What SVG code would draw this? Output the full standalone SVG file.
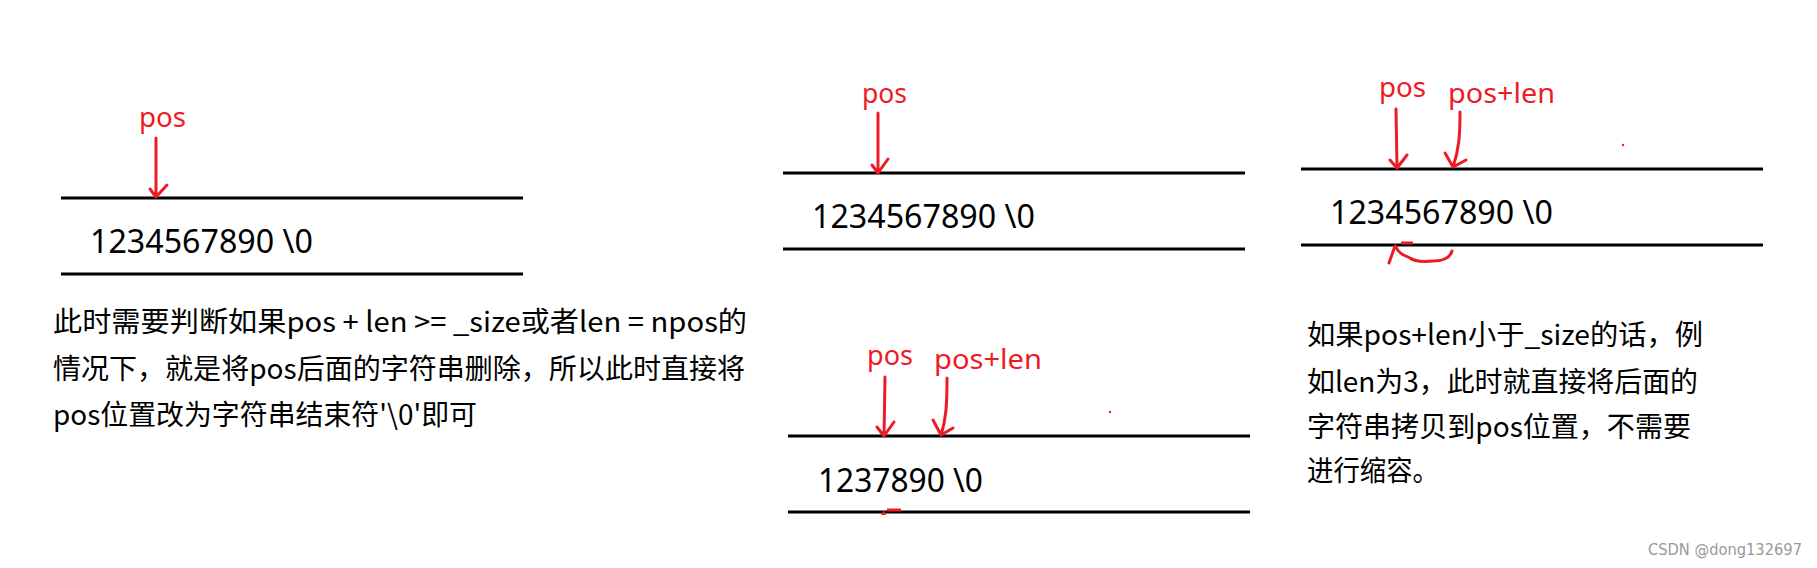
<svg xmlns="http://www.w3.org/2000/svg" width="1817" height="568" viewBox="0 0 1817 568">
<style>
.bar{stroke:#000;stroke-width:3;fill:none}
.red{stroke:#ed1c24;stroke-width:3;fill:none;stroke-linecap:round;stroke-linejoin:round}
.lbl{fill:#ed1c24;font-family:"Noto Sans","Open Sans",sans-serif;font-size:28px}
.num{fill:#000;font-family:"Noto Sans","Open Sans",sans-serif;font-size:33px}
.cn{fill:#000;font-family:"Noto Sans CJK SC",sans-serif;font-size:28px}
.wm{fill:#9a9a9a;font-family:"DejaVu Sans","Liberation Sans",sans-serif;font-size:15px}
</style>
<rect width="1817" height="568" fill="#fff"/>

<g id="panel-left">
  <line class="bar" x1="61" y1="198" x2="523" y2="198"/>
  <line class="bar" x1="61" y1="274" x2="523" y2="274"/>
  <text class="num" x="90" y="253" textLength="223" lengthAdjust="spacingAndGlyphs">1234567890 \0</text>
  <text class="lbl" x="139" y="127" textLength="47" lengthAdjust="spacingAndGlyphs">pos</text>
</g>

<g id="note-left">
  <text class="cn" x="53" y="332" textLength="694" lengthAdjust="spacingAndGlyphs">此时需要判断如果pos + len &gt;= _size或者len = npos的</text>
  <text class="cn" x="53" y="379" textLength="692" lengthAdjust="spacingAndGlyphs">情况下，就是将pos后面的字符串删除，所以此时直接将</text>
  <text class="cn" x="53" y="425" textLength="424" lengthAdjust="spacingAndGlyphs">pos位置改为字符串结束符'\0'即可</text>
</g>

<g id="panel-mid-top">
  <line class="bar" x1="783" y1="173" x2="1245" y2="173"/>
  <line class="bar" x1="783" y1="249" x2="1245" y2="249"/>
  <text class="num" x="812" y="228" textLength="223" lengthAdjust="spacingAndGlyphs">1234567890 \0</text>
  <text class="lbl" x="862" y="103" textLength="45" lengthAdjust="spacingAndGlyphs">pos</text>
</g>

<g id="panel-mid-bottom">
  <line class="bar" x1="788" y1="436" x2="1250" y2="436"/>
  <line class="bar" x1="788" y1="512" x2="1250" y2="512"/>
  <text class="num" x="818" y="492" textLength="165" lengthAdjust="spacingAndGlyphs">1237890 \0</text>
  <text class="lbl" x="867" y="365" textLength="46" lengthAdjust="spacingAndGlyphs">pos</text>
  <text class="lbl" x="934" y="369" textLength="108" lengthAdjust="spacingAndGlyphs">pos+len</text>
  <circle cx="1110" cy="412" r="1.2" fill="#ed1c24"/>
  <path d="M881,515 L884,510 L886,515 Z" fill="#ed1c24"/>
  <line x1="887" y1="510" x2="901" y2="510" stroke="#ed1c24" stroke-width="3"/>
</g>

<g id="panel-right">
  <line class="bar" x1="1301" y1="169" x2="1763" y2="169"/>
  <line class="bar" x1="1301" y1="245" x2="1763" y2="245"/>
  <text class="num" x="1330" y="224" textLength="223" lengthAdjust="spacingAndGlyphs">1234567890 \0</text>
  <text class="lbl" x="1379" y="97" textLength="47" lengthAdjust="spacingAndGlyphs">pos</text>
  <text class="lbl" x="1448" y="103" textLength="107" lengthAdjust="spacingAndGlyphs">pos+len</text>
  <circle cx="1623" cy="145" r="1.2" fill="#ed1c24"/>
</g>

<g id="note-right">
  <text class="cn" x="1307" y="345" textLength="396" lengthAdjust="spacingAndGlyphs">如果pos+len小于_size的话，例</text>
  <text class="cn" x="1307" y="392" textLength="391" lengthAdjust="spacingAndGlyphs">如len为3，此时就直接将后面的</text>
  <text class="cn" x="1307" y="437" textLength="384" lengthAdjust="spacingAndGlyphs">字符串拷贝到pos位置，不需要</text>
  <text class="cn" x="1307" y="481" textLength="132" lengthAdjust="spacingAndGlyphs">进行缩容。</text>
</g>

<g id="connectors">
  <path class="red" d="M156,138 L156,197 M150,189 L156,197 L167,185"/>
  <path class="red" d="M878,113 L878,173 M872,165 L878,173 L888,159"/>
  <path class="red" d="M885,377 L884,436 M877,427 L884,436 L894,422"/>
  <path class="red" d="M947,378 C947,405 946,420 941,435 M933,420 L941,435 L953,428"/>
  <path class="red" d="M1396,109 L1397,168 M1390,160 L1397,168 L1407,155"/>
  <path class="red" d="M1460,112 C1460,135 1459,150 1453,167 M1445,153 L1453,167 L1466,160"/>
  <path class="red" d="M1452,251 C1450,258 1443,261 1433,261 C1423,262 1415,262 1410,258 C1404,255 1399,254 1396,247 M1389,263 L1395,246"/>
  <line x1="1401" y1="243" x2="1413" y2="243" stroke="#ed1c24" stroke-width="3"/>
</g>

<text class="wm" x="1648" y="555" textLength="154" lengthAdjust="spacingAndGlyphs">CSDN @dong132697</text>
</svg>
